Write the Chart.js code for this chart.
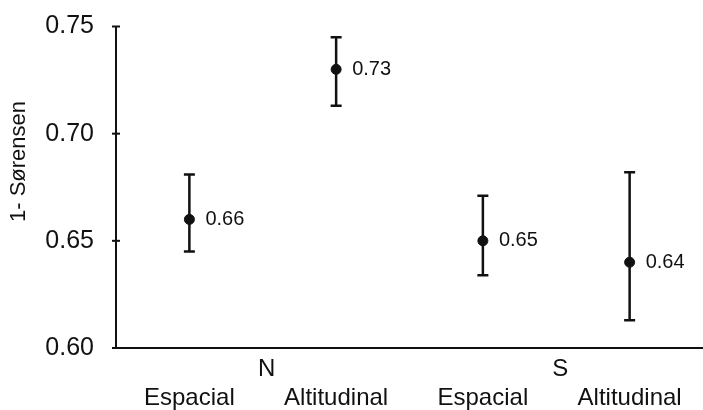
<!DOCTYPE html>
<html>
<head>
<meta charset="utf-8">
<script src="https://cdn.jsdelivr.net/npm/chart.js@4/dist/chart.umd.min.js"></script>
<style>
  html, body { margin: 0; padding: 0; background: #fff; }
  #wrap { width: 703px; height: 410px; }
</style>
</head>
<body>
<div id="wrap"><canvas id="chart"></canvas></div>
<script>
const groups = ["N", "S"];
const categories = ["Espacial", "Altitudinal", "Espacial", "Altitudinal"];
const means = [0.66, 0.73, 0.65, 0.64];
const lowerBounds = [0.645, 0.713, 0.634, 0.613];
const upperBounds = [0.681, 0.745, 0.671, 0.682];
const yTicks = [0.60, 0.65, 0.70, 0.75];
const yTitle = "1- Sørensen";

const FONT = "'Liberation Sans', Arial, sans-serif";
const INK = "#111";

// whiskers, value labels, tick marks, axis title and the two rows of x labels
const decorations = {
    id: "decorations",
    afterDatasetsDraw(chart) {
        const ctx = chart.ctx;
        const x = chart.scales.x;
        const y = chart.scales.y;
        const area = chart.chartArea;

        ctx.save();
        ctx.strokeStyle = INK;
        ctx.lineWidth = 2.5;
        means.forEach((m, i) => {
            const px = x.getPixelForValue(i);
            const top = y.getPixelForValue(upperBounds[i]);
            const bottom = y.getPixelForValue(lowerBounds[i]);
            ctx.beginPath();
            ctx.moveTo(px, top);
            ctx.lineTo(px, bottom);
            ctx.moveTo(px - 5.5, top);
            ctx.lineTo(px + 5.5, top);
            ctx.moveTo(px - 5.5, bottom);
            ctx.lineTo(px + 5.5, bottom);
            ctx.stroke();
        });

        ctx.fillStyle = INK;
        ctx.font = "20px " + FONT;
        ctx.textAlign = "left";
        ctx.textBaseline = "middle";
        means.forEach((m, i) => {
            ctx.fillText(m.toFixed(2), x.getPixelForValue(i) + 16, y.getPixelForValue(m));
        });

        // small ticks crossing the y axis
        ctx.lineWidth = 2;
        y.ticks.forEach(t => {
            const py = y.getPixelForValue(t.value);
            ctx.beginPath();
            ctx.moveTo(area.left - 4, py);
            ctx.lineTo(area.left + 4, py);
            ctx.stroke();
        });

        ctx.font = "24px " + FONT;
        ctx.textAlign = "center";
        groups.forEach((g, gi) => {
            const px = (x.getPixelForValue(gi * 2) + x.getPixelForValue(gi * 2 + 1)) / 2;
            ctx.fillText(g, px + 4, area.bottom + 21);
        });
        categories.forEach((c, i) => {
            ctx.fillText(c, x.getPixelForValue(i), area.bottom + 50);
        });

        ctx.font = "22px " + FONT;
        ctx.translate(19, area.top + 135);
        ctx.rotate(-Math.PI / 2);
        ctx.fillText(yTitle, 0, 0);
        ctx.restore();
    }
};

new Chart(document.getElementById("chart"), {
    type: "line",
    data: {
        labels: categories,
        datasets: [{
            data: means,
            showLine: false,
            pointRadius: 5,
            pointHoverRadius: 5,
            pointBackgroundColor: INK,
            pointBorderColor: INK
        }]
    },
    options: {
        responsive: true,
        maintainAspectRatio: false,
        animation: false,
        layout: { autoPadding: false, padding: { top: 25, right: 0, bottom: 54, left: 0 } },
        plugins: { legend: { display: false }, tooltip: { enabled: false } },
        scales: {
            x: {
                offset: true,
                grid: { display: false },
                border: { display: true, color: INK, width: 2 },
                ticks: { display: false }
            },
            y: {
                min: yTicks[0],
                max: yTicks[yTicks.length - 1],
                afterBuildTicks: scale => {
                    scale.ticks = yTicks.map(v => ({ value: v }));
                },
                afterFit: scale => { scale.width = 116; },
                grid: { display: false },
                border: { display: true, color: INK, width: 2 },
                ticks: {
                    color: INK,
                    padding: 14,
                    font: { family: FONT, size: 25, lineHeight: 1 },
                    callback: v => v.toFixed(2)
                }
            }
        }
    },
    plugins: [decorations]
});
</script>
</body>
</html>
